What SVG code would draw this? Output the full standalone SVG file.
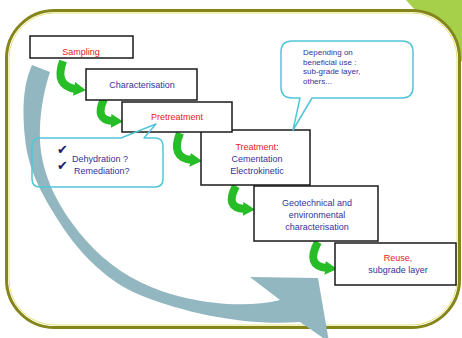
<svg xmlns="http://www.w3.org/2000/svg" width="462" height="338" viewBox="0 0 462 338">
<style>
.box{fill:#fff;stroke:#1a1a1a;stroke-width:1.5}
.call{fill:none;stroke:#52c6d8;stroke-width:1.5;stroke-linejoin:round}
.t{font-family:"Liberation Sans",Arial,sans-serif;font-size:9px;text-anchor:middle}
.s{font-family:"Liberation Sans",Arial,sans-serif;font-size:8px;fill:#333399}
.red{fill:#e82020}
.blue{fill:#333399}
.chk{font-family:"DejaVu Sans",sans-serif;font-size:13px;fill:#1c1c5e}
.g{fill:none;stroke:#26bd26;stroke-width:8;stroke-linecap:butt;marker-end:url(#gh)}
</style>
<defs>
<marker id="gh" markerUnits="userSpaceOnUse" viewBox="0 0 12 14" markerWidth="12" markerHeight="14" refX="2" refY="7" orient="auto">
<path d="M0,0 L12,7 L0,14 Z" fill="#26bd26"/>
</marker>
</defs>
<rect width="462" height="338" fill="#fff"/>
<g id="frame">
<polygon points="406,0 462,0 462,62" fill="#a6d04a"/>
<rect x="6.5" y="10.5" width="453" height="317" rx="48" fill="#fff" stroke="#85851a" stroke-width="3"/>
<rect x="9" y="13" width="448" height="312" rx="45.5" fill="none" stroke="#e4e47a" stroke-width="1"/>
</g>
<g id="connectors">
<path id="cycle" fill="#92b7c1" d="M32,65 L50,72 C44,90 39,115 40,140 C41,170 55,200 72,223 C90,248 112,268 140,282 C180,302 240,310 280,300 L250,277 L318,278 L329,342 L300,322 C250,326 190,315 140,295 C110,283 80,255 60,223 C42,195 28,170 25,138 C22,110 23,85 32,65 Z"/>
<path class="g" d="M63,61 Q54,86 76,89"/>
<path class="g" d="M104,99 Q94,120 113,121"/>
<path class="g" d="M180,133 Q170,158 192,160"/>
<path class="g" d="M236,186 Q224,208 245,209"/>
<path class="g" d="M318,242 Q305,266 327,268"/>
</g>
<g id="sampling">
<rect class="box" x="30" y="36" width="103" height="22"/>
<text class="t red" x="81" y="54.5">Sampling</text>
</g>
<g id="characterisation">
<rect class="box" x="86" y="69" width="111" height="31"/>
<text class="t blue" x="142" y="88">Characterisation</text>
</g>
<g id="treatment">
<rect class="box" x="201" y="130" width="109" height="55"/>
<text class="t" x="257" y="150"><tspan class="red">Treatment</tspan><tspan class="blue">:</tspan></text>
<text class="t blue" x="257" y="162">Cementation</text>
<text class="t blue" x="257" y="174">Electrokinetic</text>
</g>
<g id="pretreatment">
<rect class="box" x="122" y="102" width="110" height="30"/>
<text class="t red" x="177" y="120">Pretreatment</text>
</g>
<g id="geotechnical">
<rect class="box" x="254" y="186" width="124" height="55"/>
<text class="t blue" x="317" y="206">Geotechnical and</text>
<text class="t blue" x="317" y="218">environmental</text>
<text class="t blue" x="317" y="230">characterisation</text>
</g>
<g id="reuse">
<rect class="box" x="335" y="243" width="121" height="42"/>
<text class="t red" x="398" y="261">Reuse,</text>
<text class="t blue" x="398" y="273">subgrade layer</text>
</g>
<g id="callout-pretreatment">
<path class="call" d="M40,138 L121,138 L156,124 L144,138 L155,138 Q163,138 163,146 L163,179 Q163,187 155,187 L40,187 Q32,187 32,179 L32,146 Q32,138 40,138 Z"/>
<text class="chk" x="57" y="154">✔</text>
<text class="chk" x="57" y="170">✔</text>
<text class="t blue" x="72" y="162" style="text-anchor:start">Dehydration ?</text>
<text class="t blue" x="74" y="174" style="text-anchor:start">Remediation?</text>
</g>
<g id="callout-reuse">
<path class="call" d="M292,41 L402,41 Q413,41 413,52 L413,87 Q413,98 402,98 L312,98 L293,130 L300,98 L292,98 Q281,98 281,87 L281,52 Q281,41 292,41 Z"/>
<text class="s" x="303" y="55">Depending on</text>
<text class="s" x="303" y="64.5">beneficial use :</text>
<text class="s" x="303" y="74">sub-grade layer,</text>
<text class="s" x="303" y="83.5">others...</text>
</g>
</svg>
